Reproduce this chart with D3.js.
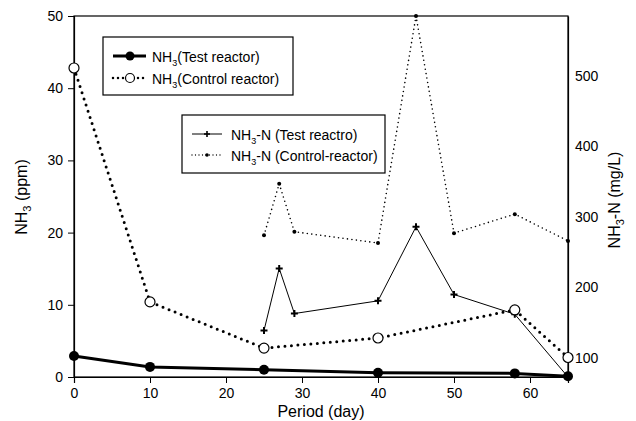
<!DOCTYPE html>
<html>
<head>
<meta charset="utf-8">
<script src="https://cdn.jsdelivr.net/npm/d3@7"></script>
<style>
  body { margin: 0; background: #fff; }
  text { font-family: "Liberation Sans", Arial, sans-serif; fill: #000; }
</style>
</head>
<body>
<svg width="636" height="421"></svg>
<script>
// values
var days = [0, 10, 25, 40, 58, 65];
var nh3Test = [2.9, 1.4, 1.0, 0.6, 0.5, 0.1];
var nh3Control = [42.8, 10.4, 4.0, 5.4, 9.3, 2.7];

var daysN = [25, 27, 29, 40, 45, 50, 58, 65];
var nTest = [139, 227, 163, 181, 286, 190, 162, 73];
var nControl = [274, 347, 279, 263, 585, 277, 304, 266];

var xTicks = [0, 10, 20, 30, 40, 50, 60];
var yTicks = [0, 10, 20, 30, 40, 50];
var y2Ticks = [100, 200, 300, 400, 500];

var svg = d3.select("svg"),
    pLeft = 74, pRight = 568, pTop = 16, pBottom = 377;

var x = d3.scaleLinear().domain([0, 65]).range([pLeft, pRight]);
var y = d3.scaleLinear().domain([0, 50]).range([pBottom, pTop]);
var y2 = d3.scaleLinear().domain([73, 585]).range([pBottom, pTop]);

// frame
svg.append("rect")
    .attr("x", pLeft).attr("y", pTop)
    .attr("width", pRight - pLeft).attr("height", pBottom - pTop)
    .attr("fill", "none").attr("stroke", "#000").attr("stroke-width", 1.2);

var xAxis = svg.append("g")
    .attr("transform", "translate(0," + pBottom + ")")
    .call(d3.axisBottom(x).tickValues(xTicks).tickSize(6).tickPadding(5));
var yAxis = svg.append("g")
    .attr("transform", "translate(" + pLeft + ",0)")
    .call(d3.axisLeft(y).tickValues(yTicks).tickSize(6).tickPadding(5));
var y2Axis = svg.append("g")
    .attr("transform", "translate(" + pRight + ",0)")
    .call(d3.axisRight(y2).tickValues(y2Ticks).tickSize(0).tickPadding(7));

[xAxis, yAxis, y2Axis].forEach(function(a) {
  a.select(".domain").attr("stroke-width", 1.2);
  a.selectAll("text").style("font-size", "14px").style("font-family", "Liberation Sans, Arial, sans-serif");
});

// axis titles
svg.append("text")
    .attr("x", (pLeft + pRight) / 2).attr("y", 417)
    .attr("text-anchor", "middle").style("font-size", "16px")
    .text("Period (day)");

var lt = svg.append("text")
    .attr("transform", "translate(27,197) rotate(-90)")
    .attr("text-anchor", "middle").style("font-size", "16px");
lt.append("tspan").text("NH");
lt.append("tspan").attr("dy", 4).style("font-size", "11px").text("3");
lt.append("tspan").attr("dy", -4).text(" (ppm)");

var rt = svg.append("text")
    .attr("transform", "translate(620,200) rotate(-90)")
    .attr("text-anchor", "middle").style("font-size", "16px");
rt.append("tspan").text("NH");
rt.append("tspan").attr("dy", 4).style("font-size", "11px").text("3");
rt.append("tspan").attr("dy", -4).text("-N (mg/L)");

// lines
var line1 = d3.line().x(function(d, i) { return x(days[i]); }).y(function(d) { return y(d); });
var line2 = d3.line().x(function(d, i) { return x(daysN[i]); }).y(function(d) { return y2(d); });

svg.append("path").datum(nControl).attr("d", line2)
    .attr("fill", "none").attr("stroke", "#000").attr("stroke-width", 1.6)
    .attr("stroke-linecap", "round").attr("stroke-dasharray", "0,4.5");
svg.append("path").datum(nTest).attr("d", line2)
    .attr("fill", "none").attr("stroke", "#000").attr("stroke-width", 1);
svg.append("path").datum(nh3Control).attr("d", line1)
    .attr("fill", "none").attr("stroke", "#000").attr("stroke-width", 3)
    .attr("stroke-linecap", "round").attr("stroke-dasharray", "0,6.5");
svg.append("path").datum(nh3Test).attr("d", line1)
    .attr("fill", "none").attr("stroke", "#000").attr("stroke-width", 3);

// markers
svg.selectAll(".nc").data(nControl).enter().append("circle")
    .attr("cx", function(d, i) { return x(daysN[i]); }).attr("cy", function(d) { return y2(d); })
    .attr("r", 2).attr("fill", "#000");
svg.selectAll(".nt").data(nTest).enter().append("path")
    .attr("transform", function(d, i) { return "translate(" + x(daysN[i]) + "," + y2(d) + ")"; })
    .attr("d", "M-3.5,0H3.5M0,-3.5V3.5").attr("stroke", "#000").attr("stroke-width", 2);
svg.selectAll(".hc").data(nh3Control).enter().append("circle")
    .attr("cx", function(d, i) { return x(days[i]); }).attr("cy", function(d) { return y(d); })
    .attr("r", 5).attr("fill", "#fff").attr("stroke", "#000").attr("stroke-width", 1.2);
svg.selectAll(".ht").data(nh3Test).enter().append("circle")
    .attr("cx", function(d, i) { return x(days[i]); }).attr("cy", function(d) { return y(d); })
    .attr("r", 5).attr("fill", "#000");

// legend 1
var lg1 = svg.append("g");
lg1.append("rect").attr("x", 103).attr("y", 37).attr("width", 190).attr("height", 58)
    .attr("fill", "#fff").attr("stroke", "#000").attr("stroke-width", 1.2);
lg1.append("line").attr("x1", 113).attr("x2", 146).attr("y1", 56).attr("y2", 56)
    .attr("stroke", "#000").attr("stroke-width", 3);
lg1.append("circle").attr("cx", 130).attr("cy", 56).attr("r", 4.5).attr("fill", "#000");
lg1.append("line").attr("x1", 113).attr("x2", 146).attr("y1", 78).attr("y2", 78)
    .attr("stroke", "#000").attr("stroke-width", 2.5).attr("stroke-linecap", "round").attr("stroke-dasharray", "0,5");
lg1.append("circle").attr("cx", 130).attr("cy", 78).attr("r", 4.5).attr("fill", "#fff").attr("stroke", "#000").attr("stroke-width", 1.2);

function legendText(g, xx, yy, rest) {
  var t = g.append("text").attr("x", xx).attr("y", yy).style("font-size", "14px");
  t.append("tspan").text("NH");
  t.append("tspan").attr("dy", 4).style("font-size", "9px").text("3");
  t.append("tspan").attr("dy", -4).text(rest);
}
legendText(lg1, 152, 62, "(Test reactor)");
legendText(lg1, 152, 84, "(Control reactor)");

// legend 2
var lg2 = svg.append("g");
lg2.append("rect").attr("x", 182).attr("y", 115).attr("width", 203).attr("height", 58)
    .attr("fill", "#fff").attr("stroke", "#000").attr("stroke-width", 1.2);
lg2.append("line").attr("x1", 192).attr("x2", 222).attr("y1", 134).attr("y2", 134)
    .attr("stroke", "#000").attr("stroke-width", 1);
lg2.append("path").attr("d", "M204,134H210M207,131V137").attr("stroke", "#000").attr("stroke-width", 1.6);
lg2.append("line").attr("x1", 192).attr("x2", 222).attr("y1", 155).attr("y2", 155)
    .attr("stroke", "#000").attr("stroke-width", 1.3).attr("stroke-linecap", "round").attr("stroke-dasharray", "0,3.5");
lg2.append("circle").attr("cx", 207).attr("cy", 155).attr("r", 1.8).attr("fill", "#000");
legendText(lg2, 231, 140, "-N (Test reactro)");
legendText(lg2, 231, 161, "-N (Control-reactor)");
</script>
</body>
</html>
